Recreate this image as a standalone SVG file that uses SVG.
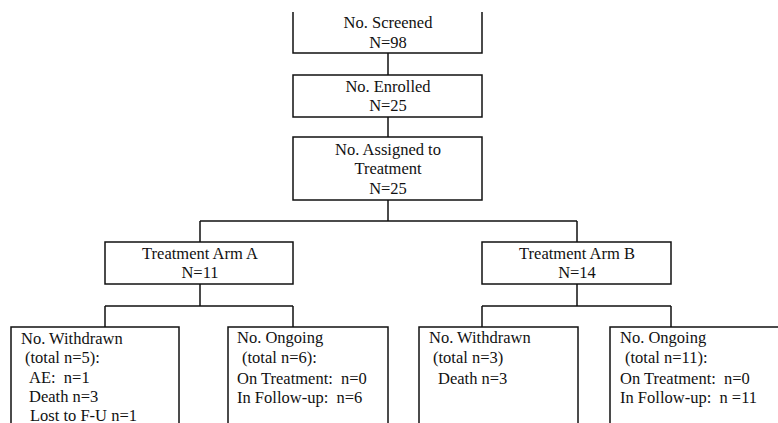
<svg xmlns="http://www.w3.org/2000/svg" width="778" height="423" viewBox="0 0 778 423">
<style>
.box{fill:#fff;stroke:#111;stroke-width:1.5}
.ln{fill:none;stroke:#111;stroke-width:1.5}
.t{font-family:'Liberation Serif',Tinos,'Noto Serif','DejaVu Serif','Nimbus Roman',FreeSerif,Times,serif;font-size:16.5px;fill:#111}
.c{text-anchor:middle}
</style>
<rect width="778" height="423" fill="#fff"/>
<g id="connectors">
<path class="ln" d="M388 53V75M388 117V137M388 200V221M200 221H577M200 221V242M577 221V242"/>
<path class="ln" d="M200 284V306M105 306H293M105 306V327M293 306V327"/>
<path class="ln" d="M577 284V306M482 306H671M482 306V327M671 306V327"/>
</g>
<g id="screened" class="t">
<path class="box" d="M293 12V53H482V12"/>
<text class="c" x="388" y="28">No. Screened</text>
<text class="c" x="388" y="48">N=98</text>
</g>
<g id="enrolled" class="t">
<rect class="box" x="293" y="75" width="189" height="42"/>
<text class="c" x="388" y="92">No. Enrolled</text>
<text class="c" x="388" y="111">N=25</text>
</g>
<g id="assigned" class="t">
<rect class="box" x="293" y="137" width="189" height="63"/>
<text class="c" x="388" y="155">No. Assigned to</text>
<text class="c" x="388" y="174">Treatment</text>
<text class="c" x="388" y="194">N=25</text>
</g>
<g id="armA" class="t">
<rect class="box" x="105" y="242" width="188" height="42"/>
<text class="c" x="200" y="259">Treatment Arm A</text>
<text class="c" x="200" y="278">N=11</text>
</g>
<g id="armB" class="t">
<rect class="box" x="482" y="242" width="189" height="42"/>
<text class="c" x="577" y="259">Treatment Arm B</text>
<text class="c" x="577" y="278">N=14</text>
</g>
<g id="withdrawnA" class="t">
<rect class="box" x="11" y="327" width="168" height="110"/>
<text x="21" y="344">No. Withdrawn</text>
<text x="25" y="363">(total n=5):</text>
<text x="29" y="383" xml:space="preserve">AE:  n=1</text>
<text x="29" y="402">Death n=3</text>
<text x="30" y="421">Lost to F-U n=1</text>
</g>
<g id="ongoingA" class="t">
<rect class="box" x="228" y="327" width="160" height="110"/>
<text x="237" y="343">No. Ongoing</text>
<text x="242" y="363">(total n=6):</text>
<text x="237" y="384" xml:space="preserve">On Treatment:  n=0</text>
<text x="237" y="403" xml:space="preserve">In Follow-up:  n=6</text>
</g>
<g id="withdrawnB" class="t">
<rect class="box" x="419" y="327" width="159" height="110"/>
<text x="429" y="343">No. Withdrawn</text>
<text x="433" y="363">(total n=3)</text>
<text x="438" y="384">Death n=3</text>
</g>
<g id="ongoingB" class="t">
<rect class="box" x="610" y="327" width="180" height="110"/>
<text x="620" y="343">No. Ongoing</text>
<text x="625" y="363">(total n=11):</text>
<text x="620" y="384" xml:space="preserve">On Treatment:  n=0</text>
<text x="620" y="403" xml:space="preserve">In Follow-up:  n =11</text>
</g>
</svg>
